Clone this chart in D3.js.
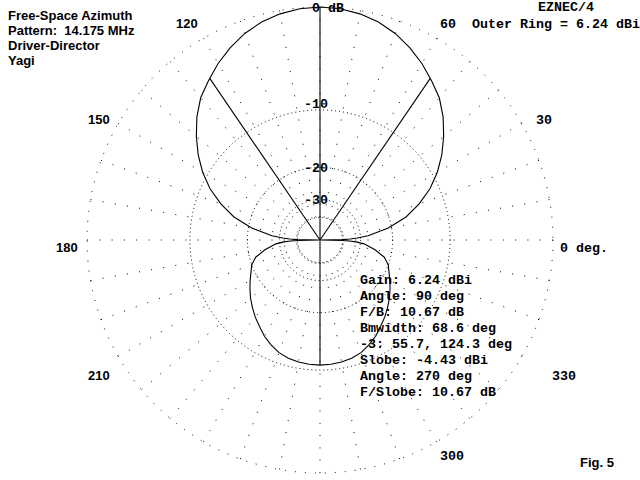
<!DOCTYPE html>
<html><head><meta charset="utf-8">
<script src="https://cdn.jsdelivr.net/npm/d3@7"></script>
<style>
html,body{margin:0;padding:0;background:#fff;}
svg{display:block;}
text{white-space:pre;}
.mono{font-family:"Liberation Mono","DejaVu Sans Mono",monospace;font-size:13.33px;font-weight:bold;fill:#000;}
.sans{font-family:"Liberation Sans",Arial,sans-serif;font-size:13px;font-weight:bold;fill:#000;}
</style></head><body>
<svg id="chart" width="640" height="480"></svg>
<script>
// ---------- data ----------
const patternAngles = [0,1,2,3,5,10,15,20,25,30,35,40,45,50,55,60,65,70,75,80,85,90,
  95,100,105,110,115,120,125,130,135,140,145,150,155,160,165,170,175,177,178,179,
  180,181,182,183,185,190,195,200,205,210,215,220,225,230,235,240,245,250,255,260,265,270,
  275,280,285,290,295,300,305,310,315,320,325,330,335,340,345,350,355,357,358,359];
const patternDb = [-99,-40,-35,-31.5,-27,-20.8,-16.5,-13.6,-11.2,-9.3,-7.7,-6.3,-5.0,-3.9,-3.1,-2.3,-1.6,-1.0,-0.55,-0.25,-0.06,0,
  -0.06,-0.25,-0.55,-1.0,-1.6,-2.3,-3.1,-3.9,-5.0,-6.3,-7.7,-9.3,-11.2,-13.6,-16.5,-20.8,-27,-31.5,-35,-40,
  -99,-40.5,-35.5,-32,-28.5,-24.5,-21.5,-20.0,-19.2,-18.2,-17.2,-16.2,-15.3,-14.4,-13.6,-12.7,-12.0,-11.4,-11.05,-10.85,-10.72,-10.67,
  -10.72,-10.85,-11.05,-11.4,-12.0,-12.7,-13.6,-14.4,-15.3,-16.2,-17.2,-18.2,-19.2,-20.0,-21.5,-24.5,-28.5,-32,-35.5,-40.5];

const ringDb = [0,-10,-20,-30,-40];
const ringLabelDb = [0,-10,-20,-30];
const ringLabels = ["0 dB","-10","-20","-30"];
const spokeAngles = [0,10,20,30,40,50,60,70,80,90,100,110,120,130,140,150,160,170,
  180,190,200,210,220,230,240,250,260,270,280,290,300,310,320,330,340,350];
const angleTickValues = [0,30,60,120,150,180,210,300,330];
const angleTickLabels = ["0 deg.","30","60","120","150","180","210","300","330"];
const titleLines = ["Free-Space Azimuth","Pattern:  14.175 MHz","Driver-Director","Yagi"];
const summaryLines = ["Gain: 6.24 dBi","Angle: 90 deg","F/B: 10.67 dB","Bmwidth: 68.6 deg",
  "-3: 55.7, 124.3 deg","Slobe: -4.43 dBi","Angle: 270 deg","F/Slobe: 10.67 dB"];
const maxAngle = 90, maxDb = 0;
const beamEdgeAngles = [55.7, 124.3], beamEdgeDb = -3;
const slobeAngle = 270, slobeDb = -10.67;
const programLabel = "EZNEC/4";
const outerRingLabel = "Outer Ring = 6.24 dBi";
const figLabel = "Fig. 5";

// ---------- layout ----------
const W = 640, H = 480, cx = 320, cy = 240, R = 233;
const CW = 8, CH = 16;             // character grid of the original
const labelRadius = 256;
const tickColNudge = {0: -2, 120: -1, 330: 3};
const sansTicks = new Set([120,150,180,210]);

const svg = d3.select("#chart");
const g = svg.append("g").attr("transform", `translate(${cx},${cy})`);

// ARRL log scale: radius shrinks by 0.89 every 2 dB
const logR = d3.scaleLinear().domain([0, -2]).range([Math.log(R), Math.log(R) + Math.log(0.89)]);
const rScale = d => Math.exp(logR(d));
const angleScale = d3.scaleLinear().domain([0, 360]).range([Math.PI/2, Math.PI/2 - 2*Math.PI]);
const px = (a, d) => rScale(d) * Math.sin(angleScale(a));
const py = (a, d) => -rScale(d) * Math.cos(angleScale(a));
const snapRow = y => Math.floor(Math.round(y * 1000) / 1000 / CH);

// rings
g.selectAll("circle.ring").data(ringDb).join("circle")
  .attr("class","ring").attr("r", d => rScale(d))
  .attr("fill","none").attr("stroke","#000").attr("stroke-width",1)
  .attr("stroke-dasharray", d => d === 0 ? "1 9" : "1 3");

// spokes (drawn from outer ring inward)
const rInner = rScale(-40);
g.selectAll("line.spoke").data(spokeAngles).join("line")
  .attr("class","spoke")
  .attr("x1", a => R * Math.sin(angleScale(a))).attr("y1", a => -R * Math.cos(angleScale(a)))
  .attr("x2", a => rInner * Math.sin(angleScale(a))).attr("y2", a => -rInner * Math.cos(angleScale(a)))
  .attr("stroke","#000").attr("stroke-width",1).attr("stroke-dasharray","1 11.3");

// pattern
const pts = patternAngles.map((a, i) => [angleScale(a), rScale(patternDb[i])]);
const radial = d3.lineRadial().angle(d => d[0]).radius(d => d[1]).curve(d3.curveLinearClosed);
g.append("path").attr("d", radial(pts)).attr("fill","none").attr("stroke","#000").attr("stroke-width",1.1);

// marker lines
const markers = [[maxAngle, maxDb], [slobeAngle, slobeDb], [beamEdgeAngles[0], beamEdgeDb], [beamEdgeAngles[1], beamEdgeDb]];
g.selectAll("line.marker").data(markers).join("line")
  .attr("class","marker").attr("x1",0).attr("y1",0)
  .attr("x2", d => px(d[0], d[1])).attr("y2", d => py(d[0], d[1]))
  .attr("stroke","#000").attr("stroke-width",1.1);

// ring labels (snapped to character grid)
svg.selectAll("text.ringlab").data(ringLabelDb).join("text")
  .attr("class","ringlab mono")
  .attr("x", (d, i) => i === 0 ? Math.floor(cx / CW - 1) * CW : Math.floor(cx / CW - 2) * CW)
  .attr("y", d => snapRow(cy - rScale(d)) * CH + 12)
  .text((d, i) => ringLabels[i]);

// angle tick labels
svg.selectAll("text.anglab").data(angleTickValues).join("text")
  .attr("class", a => "anglab " + (sansTicks.has(a) ? "sans" : "mono"))
  .attr("x", (a, i) => {
    const len = a === 0 ? 1 : angleTickLabels[i].length;
    const col = Math.round((cx + labelRadius * Math.cos(a * Math.PI / 180)) / CW - len / 2) + (tickColNudge[a] || 0);
    return col * CW;
  })
  .attr("y", a => snapRow(cy - labelRadius * Math.sin(a * Math.PI / 180)) * CH + 12)
  .text((a, i) => angleTickLabels[i]);

// title block
svg.selectAll("text.title").data(titleLines).join("text")
  .attr("class","title sans").attr("x", 8).attr("y", (d, i) => 19.5 + i * 15).text(d => d);

// summary block
svg.selectAll("text.summary").data(summaryLines).join("text")
  .attr("class","summary mono").attr("x", 45 * CW).attr("y", (d, i) => (17 + i) * CH + 12).text(d => d);

svg.append("text").attr("class","mono").attr("x", 538).attr("y", 11).text(programLabel);
svg.append("text").attr("class","mono").attr("x", 59 * CW).attr("y", CH + 12).text(outerRingLabel);
svg.append("text").attr("class","sans").attr("x", 580).attr("y", 467).text(figLabel);
</script>
</body></html>
